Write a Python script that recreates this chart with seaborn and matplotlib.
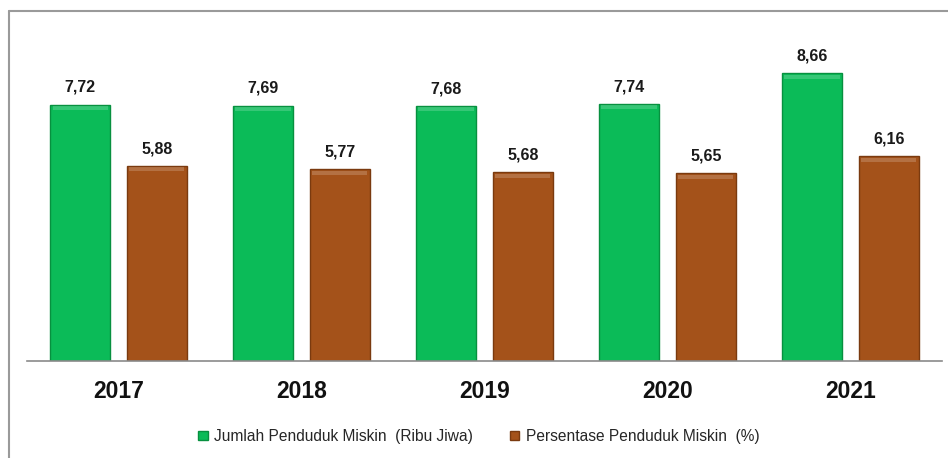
import matplotlib
matplotlib.use("Agg")
import matplotlib.pyplot as plt
import matplotlib.patches as mpatches
import seaborn as sns
import pandas as pd

years = ["2017", "2018", "2019", "2020", "2021"]
jumlah = [7.72, 7.69, 7.68, 7.74, 8.66]
persen = [5.88, 5.77, 5.68, 5.65, 6.16]
series_names = ["Jumlah Penduduk Miskin  (Ribu Jiwa)", "Persentase Penduduk Miskin  (%)"]
colors = ["#0BBB58", "#A4521A"]
edge_colors = ["#07903F", "#7A3A0F"]

df = pd.DataFrame({
    "Tahun": years * 2,
    "Nilai": jumlah + persen,
    "Seri": [series_names[0]] * len(years) + [series_names[1]] * len(years),
})

sns.set_theme(style="white")
plt.rcParams["font.family"] = ["Liberation Sans", "DejaVu Sans"]

fig = plt.figure(figsize=(9.48, 4.58), dpi=100)
ax = fig.add_axes([0.0285, 0.2118, 0.965, 0.725])

sns.barplot(data=df, x="Tahun", y="Nilai", hue="Seri", order=years,
            hue_order=series_names, palette=colors, width=0.84, gap=0.22,
            ax=ax, legend=False, saturation=1)

# bevel look: darker outline plus a lighter strip along each bar top
for container, ec in zip(ax.containers, edge_colors):
    for patch in container.patches:
        patch.set_edgecolor(ec)
        patch.set_linewidth(1.0)
        x, w, h = patch.get_x(), patch.get_width(), patch.get_height()
        ax.add_patch(mpatches.Rectangle((x + w * 0.04, h - 0.16), w * 0.92, 0.12,
                                        facecolor="white", alpha=0.18,
                                        edgecolor="none", zorder=3))
    ax.bar_label(container, labels=[f"{v:.2f}".replace(".", ",") for v in container.datavalues],
                 padding=7, fontsize=11.5, fontweight="bold", color="#1a1a1a")

ax.set_xlim(-0.5, 4.5)
ax.set_ylim(0, 10)
ax.set_xlabel("")
ax.set_ylabel("")
ax.set_yticks([])
ax.tick_params(axis="x", length=0, pad=14, labelsize=16.5)
for lbl in ax.get_xticklabels():
    lbl.set_fontweight("bold")
    lbl.set_color("#111111")
for side in ["top", "left", "right"]:
    ax.spines[side].set_visible(False)
ax.spines["bottom"].set_color("#8a8a8a")
ax.spines["bottom"].set_linewidth(1.2)

handles = [mpatches.Patch(facecolor=c, edgecolor=e, label=n)
           for c, e, n in zip(colors, edge_colors, series_names)]
fig.legend(handles=handles, loc="center", bbox_to_anchor=(0.505, 0.047),
           ncol=2, frameon=False, fontsize=11.2, handlelength=0.6,
           handleheight=0.6, handletextpad=0.4, columnspacing=2.4)

# outer frame of the chart area
fig.add_artist(plt.Line2D([9 / 948, 9 / 948], [0, 1 - 11 / 458],
                          transform=fig.transFigure, color="#9a9a9a", lw=1.5))
fig.add_artist(plt.Line2D([9 / 948, 1], [1 - 11 / 458, 1 - 11 / 458],
                          transform=fig.transFigure, color="#9a9a9a", lw=1.5))

fig.savefig("out.png", dpi=100, facecolor="white")
